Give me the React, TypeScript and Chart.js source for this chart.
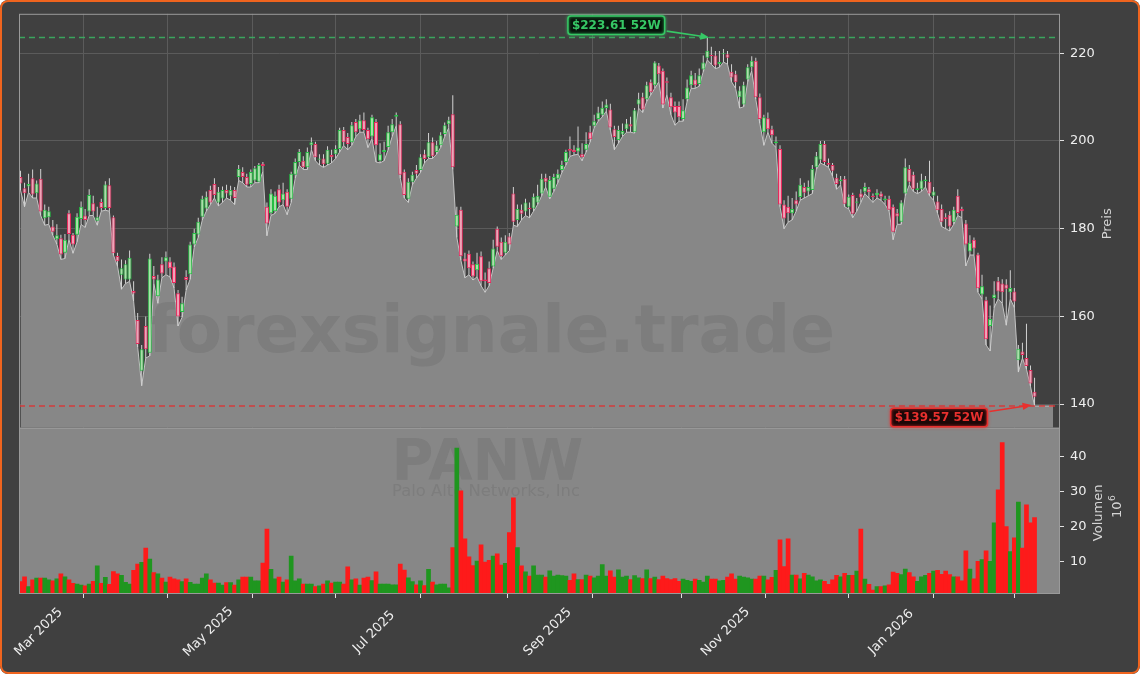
import React, { useEffect, useRef } from "react";
import { Chart, registerables } from "chart.js";

Chart.register(...registerables);

// ---------------- data ----------------
const TICKER = "PANW";
const COMPANY = "Palo Alto Networks, Inc";
const WATERMARK = "forexsignale.trade";
const PRICE_TITLE = "Preis";
const VOLUME_TITLE = "Volumen";
const START_DATE = "2025-02-24";
const HOLIDAYS = [
  "2025-04-18", "2025-05-26", "2025-06-19", "2025-07-04", "2025-09-01",
  "2025-11-27", "2025-12-25", "2026-01-01", "2026-01-19", "2026-02-16",
];
const MONTH_NAMES = ["Jan", "Feb", "Mar", "Apr", "May", "Jun", "Jul", "Aug", "Sep", "Oct", "Nov", "Dec"];
const PRICE_TICKS = [140, 160, 180, 200, 220];
const VOLUME_TICKS = [10, 20, 30, 40];

const opens = [
  191.8, 189.2, 189.6, 191.5, 188.1, 191.4, 182.4, 182.6, 180.5, 177.6,
  177.8, 174.5, 183.5, 178.6, 178.6, 182.2, 183.0, 183.9, 185.8, 181.8,
  186.1, 184.7, 189.9, 182.6, 173.8, 169.5, 168.4, 168.4, 165.8, 159.2,
  147.6, 157.8, 151.7, 169.2, 164.6, 171.9, 172.5, 172.5, 171.4, 165.3,
  161.0, 169.0, 169.6, 176.4, 178.7, 182.7, 184.6, 188.8, 190.2, 186.0,
  186.9, 188.8, 187.5, 188.8, 191.8, 192.9, 191.8, 190.2, 191.0, 190.7,
  194.8, 185.0, 183.5, 184.0, 189.0, 186.5, 188.4, 186.8, 192.3, 195.2,
  195.5, 194.0, 199.0, 199.3, 195.7, 196.0, 194.8, 196.8, 197.0, 198.2,
  202.5, 200.9, 199.7, 204.3, 202.7, 204.7, 202.5, 201.0, 204.3, 195.5,
  197.5, 198.6, 202.0, 205.5, 203.8, 193.0, 186.8, 190.7, 193.4, 193.4,
  197.0, 196.3, 199.7, 197.5, 199.0, 201.6, 203.8, 206.1, 180.5, 184.3,
  173.2, 174.3, 171.9, 170.5, 173.7, 168.4, 171.0, 171.4, 180.0, 177.0,
  174.5, 178.2, 188.0, 182.0, 184.3, 183.9, 184.8, 184.6, 186.0, 188.0,
  191.6, 187.3, 189.1, 191.4, 193.4, 195.2, 198.2, 198.0, 197.6, 197.0,
  198.0, 202.0, 203.5, 205.0, 206.0, 207.5, 207.2, 202.7, 200.2, 201.5,
  202.7, 203.8, 202.0, 208.3, 210.0, 209.5, 213.4, 212.7, 217.2, 216.0,
  213.6, 210.0, 208.0, 208.0, 205.0, 209.5, 212.7, 214.0, 213.0, 216.3,
  219.0, 219.6, 219.5, 217.5, 219.8, 219.8, 215.8, 215.2, 210.0, 208.3,
  214.0, 216.8, 218.3, 210.0, 202.0, 205.2, 202.7, 199.5, 198.2, 185.5,
  185.0, 183.5, 186.5, 187.2, 189.5, 188.5, 188.8, 194.0, 195.7, 199.3,
  195.0, 194.5, 191.6, 190.8, 191.4, 185.0, 187.7, 185.9, 188.0, 188.4,
  189.0, 187.5, 187.6, 188.0, 186.5, 186.8, 185.0, 183.5, 181.6, 188.0,
  193.6, 192.3, 188.8, 189.0, 190.8, 190.7, 187.5, 186.2, 184.5, 182.6,
  183.2, 181.6, 187.5, 184.5, 181.2, 174.8, 177.5, 174.1, 165.0, 163.7,
  157.8, 164.2, 168.0, 167.5, 167.3, 165.5, 165.7, 150.0, 152.0, 150.5,
  147.8, 142.8,
];
const highs = [
  193.2, 190.5, 192.5, 193.5, 191.0, 193.6, 185.5, 185.0, 182.0, 181.0,
  178.6, 178.8, 184.2, 179.0, 183.5, 186.2, 184.5, 189.0, 187.5, 185.0,
  186.8, 190.8, 191.5, 183.0, 174.5, 173.0, 172.8, 175.0, 168.0, 160.8,
  153.5, 160.0, 174.3, 171.5, 169.5, 173.5, 174.8, 173.5, 172.3, 166.0,
  164.5, 170.5, 177.0, 180.0, 182.5, 187.5, 188.5, 189.8, 191.5, 189.5,
  189.6, 190.0, 189.8, 189.5, 194.5, 194.0, 192.5, 193.5, 194.3, 195.0,
  195.2, 186.0, 189.0, 188.5, 190.0, 190.5, 189.0, 193.0, 196.0, 198.2,
  196.5, 198.5, 200.8, 199.8, 197.0, 197.0, 198.8, 198.0, 199.0, 203.0,
  203.2, 201.8, 204.3, 205.0, 206.0, 206.5, 203.0, 206.0, 205.0, 199.5,
  199.8, 203.5, 205.0, 206.5, 204.5, 193.5, 191.5, 193.0, 194.5, 197.0,
  198.0, 201.8, 200.8, 200.0, 202.0, 204.2, 205.5, 210.4, 185.0, 185.0,
  174.5, 175.0, 172.5, 174.5, 174.8, 170.0, 172.5, 177.5, 180.5, 178.0,
  178.5, 179.0, 189.5, 185.5, 185.5, 186.8, 186.0, 188.0, 190.0, 192.5,
  192.5, 192.0, 192.5, 193.5, 195.5, 198.0, 201.0, 199.0, 203.3, 199.5,
  202.0, 203.5, 206.0, 207.8, 209.0, 209.5, 208.5, 203.5, 203.5, 204.0,
  205.0, 205.5, 207.5, 211.0, 211.0, 213.5, 214.0, 218.2, 217.8, 216.5,
  214.5, 211.0, 209.0, 209.0, 209.5, 214.0, 216.0, 215.5, 216.5, 219.5,
  223.61, 221.5, 220.5, 220.5, 221.0, 220.5, 217.5, 216.0, 212.5, 213.5,
  217.5, 219.3, 219.0, 210.8, 206.0, 206.5, 203.5, 201.0, 199.0, 186.5,
  187.5, 187.0, 188.5, 191.5, 190.5, 191.0, 194.5, 197.5, 200.0, 200.0,
  196.0, 195.0, 192.5, 192.0, 192.0, 187.8, 188.2, 187.0, 189.0, 190.5,
  189.5, 188.0, 189.0, 188.5, 187.5, 187.5, 185.5, 184.5, 186.5, 196.0,
  194.5, 193.0, 190.5, 192.5, 192.0, 195.5, 189.5, 187.5, 185.5, 183.5,
  184.0, 185.0, 189.0, 185.0, 182.0, 178.5, 178.0, 174.5, 169.5, 164.5,
  162.5, 168.0, 169.0, 168.5, 168.5, 170.5, 166.5, 153.5, 154.0, 158.3,
  148.8, 146.0,
];
const lows = [
  188.8, 185.0, 188.3, 187.0, 187.0, 183.0, 180.8, 181.0, 178.5, 176.5,
  173.0, 173.2, 177.5, 174.4, 177.0, 181.0, 180.3, 183.0, 183.0, 180.8,
  184.0, 184.2, 184.0, 174.0, 171.5, 166.2, 167.5, 168.0, 163.5, 153.0,
  144.2, 150.5, 151.0, 167.5, 163.0, 168.8, 169.5, 169.0, 166.5, 157.8,
  159.8, 166.0, 168.5, 175.8, 178.0, 182.0, 184.0, 185.5, 187.0, 185.2,
  186.0, 187.0, 186.5, 185.5, 191.0, 190.5, 189.5, 189.5, 190.5, 190.5,
  193.0, 178.4, 183.0, 183.5, 185.0, 185.5, 183.2, 186.0, 191.5, 194.5,
  193.5, 193.5, 198.0, 195.5, 194.5, 194.0, 194.5, 195.0, 196.0, 197.5,
  199.0, 198.0, 199.0, 201.0, 202.0, 202.0, 198.5, 200.5, 195.2, 195.0,
  195.5, 198.0, 201.0, 203.5, 191.5, 187.0, 186.0, 190.0, 191.5, 192.8,
  195.0, 196.0, 196.0, 197.0, 198.5, 201.0, 203.0, 193.5, 178.0, 172.8,
  168.8, 169.5, 168.3, 169.0, 167.0, 165.5, 167.0, 171.0, 175.0, 173.0,
  174.0, 175.0, 180.8, 180.5, 182.0, 183.0, 182.5, 184.0, 185.5, 187.5,
  189.5, 186.8, 188.5, 190.5, 192.8, 194.5, 196.5, 196.8, 197.0, 195.5,
  197.5, 199.8, 203.0, 204.5, 205.5, 206.8, 202.5, 198.0, 199.5, 201.0,
  202.0, 202.0, 201.8, 207.5, 206.5, 209.0, 210.5, 212.0, 213.5, 207.5,
  210.5, 206.0, 203.6, 204.5, 204.5, 209.0, 212.0, 212.0, 212.5, 215.8,
  218.5, 217.5, 216.5, 216.8, 218.0, 217.5, 213.5, 212.0, 207.5, 207.8,
  213.5, 216.0, 209.5, 204.0, 199.0, 202.0, 199.5, 198.5, 185.0, 180.0,
  181.5, 182.0, 184.0, 186.5, 187.0, 187.5, 188.0, 193.5, 195.0, 194.5,
  194.0, 192.0, 189.0, 190.0, 185.0, 184.5, 182.5, 184.0, 186.0, 188.0,
  187.0, 186.0, 187.0, 186.5, 185.5, 184.0, 177.5, 181.0, 181.0, 187.5,
  190.0, 188.5, 188.0, 188.5, 189.5, 187.5, 186.5, 183.5, 180.5, 180.0,
  179.5, 181.0, 183.0, 182.5, 171.5, 174.0, 174.0, 165.5, 164.0, 153.5,
  152.1, 162.0, 164.0, 163.0, 158.0, 164.0, 162.0, 147.3, 150.5, 148.0,
  144.0, 139.57,
];
const closes = [
  190.3, 188.1, 190.2, 187.8, 190.3, 183.9, 184.3, 184.0, 179.3, 178.5,
  174.1, 177.5, 178.8, 176.4, 182.7, 185.0, 182.0, 187.7, 183.9, 182.6,
  184.7, 190.1, 184.7, 174.4, 172.6, 171.0, 171.9, 173.4, 165.2, 153.7,
  152.5, 152.5, 173.2, 168.4, 168.4, 169.8, 173.5, 171.0, 167.6, 160.0,
  163.0, 168.3, 176.4, 179.0, 181.6, 186.8, 187.3, 186.0, 187.7, 188.4,
  188.8, 188.0, 188.8, 187.0, 193.6, 191.8, 190.0, 192.9, 193.8, 194.5,
  194.3, 181.2, 188.0, 187.5, 186.0, 188.0, 185.0, 192.5, 195.2, 197.5,
  194.0, 197.5, 199.7, 196.3, 196.0, 194.7, 198.0, 196.3, 198.2, 202.5,
  199.7, 199.3, 203.6, 202.0, 204.7, 202.5, 200.4, 205.4, 199.0, 197.0,
  198.0, 202.0, 203.8, 205.9, 192.3, 187.7, 190.7, 192.3, 192.5, 196.3,
  195.9, 199.7, 196.5, 199.0, 201.3, 203.6, 204.7, 194.0, 183.2, 173.7,
  172.5, 171.0, 169.1, 172.0, 168.0, 168.0, 167.6, 175.5, 175.9, 173.7,
  177.0, 176.4, 181.6, 184.5, 183.4, 186.0, 184.5, 187.3, 187.5, 191.4,
  190.7, 191.1, 191.8, 192.5, 194.5, 197.5, 197.8, 197.5, 198.5, 196.3,
  199.3, 200.4, 204.5, 206.5, 207.6, 208.3, 203.1, 200.9, 202.5, 202.3,
  204.0, 203.3, 207.0, 209.5, 207.2, 212.7, 211.1, 217.9, 215.2, 208.3,
  213.3, 207.7, 206.5, 205.4, 207.0, 212.2, 215.0, 212.7, 215.0, 217.9,
  220.6, 219.4, 217.2, 218.0, 220.0, 219.0, 214.5, 213.4, 211.5, 212.7,
  216.8, 218.3, 210.0, 205.0, 205.4, 202.7, 201.3, 199.9, 185.5, 182.3,
  183.5, 184.5, 185.5, 190.0, 188.2, 189.5, 193.6, 196.5, 199.3, 195.2,
  194.6, 193.2, 190.2, 191.2, 185.7, 187.3, 183.4, 186.2, 187.1, 189.5,
  188.3, 187.2, 188.2, 187.3, 186.9, 184.3, 179.3, 182.8, 186.0, 194.0,
  190.7, 189.1, 189.2, 191.0, 191.2, 188.0, 188.5, 184.2, 181.6, 182.2,
  180.5, 184.3, 183.6, 184.0, 176.4, 176.8, 175.5, 166.4, 166.9, 154.8,
  159.4, 165.0, 165.7, 165.5, 166.3, 166.5, 163.4, 152.6, 151.2, 148.7,
  144.7, 141.7,
];
// volume in millions of shares
const volumes = [
  4.3, 5.7, 2.9, 4.8, 5.3, 5.3, 5.3, 4.8, 4.5, 5.1,
  6.5, 5.7, 4.8, 3.8, 3.6, 3.3, 3.1, 3.6, 4.4, 8.8,
  3.8, 5.5, 3.5, 7.2, 6.5, 6.1, 4.1, 3.6, 7.5, 9.3,
  9.8, 13.9, 10.7, 6.9, 6.5, 5.3, 4.2, 5.6, 5.1, 4.8,
  4.3, 5.1, 4.1, 3.6, 3.6, 5.3, 6.5, 4.8, 3.9, 3.9,
  3.3, 4.0, 4.0, 3.3, 4.8, 5.6, 5.6, 5.6, 4.5, 4.5,
  9.6, 19.3, 7.8, 5.1, 5.6, 4.2, 4.8, 11.6, 4.5, 5.1,
  3.6, 3.6, 3.6, 2.9, 3.1, 3.6, 4.5, 3.9, 4.2, 4.2,
  3.6, 8.5, 4.8, 5.1, 3.3, 5.3, 5.6, 4.6, 7.1, 3.6,
  3.6, 3.6, 3.4, 3.4, 9.3, 7.6, 5.4, 4.3, 3.4, 4.5,
  3.2, 7.8, 4.2, 3.4, 3.6, 3.6, 2.5, 14.0, 42.4, 30.2,
  16.5, 11.4, 8.9, 10.2, 14.8, 9.9, 10.4, 11.6, 12.2, 9.0,
  9.5, 18.3, 28.2, 14.0, 8.8, 7.1, 5.9, 8.8, 6.2, 6.2,
  5.6, 7.4, 5.9, 6.2, 6.0, 5.9, 4.7, 6.5, 4.9, 4.9,
  6.2, 5.9, 5.4, 5.9, 9.2, 5.9, 7.4, 5.6, 7.7, 5.6,
  5.9, 4.9, 6.0, 5.4, 5.2, 7.7, 5.2, 5.6, 4.9, 5.9,
  5.2, 4.9, 5.2, 4.4, 5.0, 4.7, 4.4, 5.0, 4.7, 4.2,
  5.9, 5.0, 5.0, 4.5, 4.7, 5.6, 6.5, 5.0, 5.9, 5.6,
  5.4, 5.0, 5.0, 5.9, 5.9, 4.8, 5.5, 7.5, 16.2, 8.6,
  16.5, 6.2, 6.2, 5.1, 6.7, 6.2, 5.7, 4.5, 4.8, 4.4,
  3.5, 4.8, 6.1, 5.7, 6.7, 6.1, 6.1, 7.3, 19.3, 5.0,
  3.5, 1.9, 2.9, 2.9, 3.1, 3.4, 7.0, 6.7, 6.3, 7.9,
  6.9, 5.7, 4.4, 5.7, 6.1, 6.7, 7.3, 7.5, 6.4, 7.3,
  6.3, 5.7, 5.7, 4.5, 13.1, 7.9, 5.1, 10.1, 10.6, 13.1,
  10.1, 21.1, 30.5, 44.0, 20.0, 12.9, 16.8, 27.0, 13.9, 26.2,
  21.1, 22.6,
];

// ---------------- style / layout ----------------
const W = 1140;
const H = 674;
const CHART_LEFT = 19;
const CHART_TOP = 11;
const CHART_RIGHT = 1060;
const CHART_BOTTOM = 594;
const X_MIN = -0.37;
const X_MAX = 257.3;
const PRICE_MIN = 134.6;
const PRICE_MAX = 229.0;
const VOL_MIN = 0.77;
const VOL_MAX = 48.2;
const AREA_EXT = 4.6;

const FONT = "'DejaVu Sans', 'Noto Sans', sans-serif";
const BG = "#404040";
const GRID = "#5b5b5b";
const FRAME = "#9a9a9a";
const AREA_FILL = "#878787";
const AREA_LINE = "#c4c4c4";
const TICK_MARK = "#e0e0e0";
const TICK_LABEL = "#eeeeee";
const TITLE_COLOR = "#d4d4d4";
const WICK = "#d2d2d2";
const UP_BORDER = "#24c244";
const UP_FILL = "#a9e2a9";
const DOWN_BORDER = "#e8285c";
const DOWN_FILL = "#f3a2b8";
const VOL_UP = "#1f961f";
const VOL_DOWN = "#fe1a1a";
const HI_COLOR = "#36c865";
const HI_LINE = "rgba(58,176,96,0.9)";
const LO_COLOR = "#e8302e";
const LO_LINE = "rgba(220,52,52,0.9)";
const WM_COLOR = "rgba(50,50,50,0.11)";

function tradingDates(start: string, count: number, holidays: string[]): Date[] {
  const out: Date[] = [];
  const hol = new Set(holidays);
  const d = new Date(start + "T12:00:00Z");
  while (out.length < count) {
    const dow = d.getUTCDay();
    const iso = d.toISOString().slice(0, 10);
    if (dow !== 0 && dow !== 6 && !hol.has(iso)) out.push(new Date(d.getTime()));
    d.setUTCDate(d.getUTCDate() + 1);
  }
  return out;
}

function fitFont(ctx: CanvasRenderingContext2D, text: string, weight: string, width: number): number {
  ctx.font = `${weight} 100px ${FONT}`;
  const w = ctx.measureText(text).width;
  return (100 * width) / w;
}

function drawArrow(ctx: CanvasRenderingContext2D, x0: number, y0: number, x1: number, y1: number, color: string) {
  const ang = Math.atan2(y1 - y0, x1 - x0);
  const hl = 9;
  const hw = 3.6;
  ctx.save();
  ctx.strokeStyle = color;
  ctx.fillStyle = color;
  ctx.lineWidth = 1.6;
  ctx.beginPath();
  ctx.moveTo(x0, y0);
  ctx.lineTo(x1 - Math.cos(ang) * hl * 0.7, y1 - Math.sin(ang) * hl * 0.7);
  ctx.stroke();
  ctx.beginPath();
  ctx.moveTo(x1, y1);
  ctx.lineTo(x1 - hl * Math.cos(ang) + hw * Math.sin(ang), y1 - hl * Math.sin(ang) - hw * Math.cos(ang));
  ctx.lineTo(x1 - hl * Math.cos(ang) - hw * Math.sin(ang), y1 - hl * Math.sin(ang) + hw * Math.cos(ang));
  ctx.closePath();
  ctx.fill();
  ctx.restore();
}

function drawTag(ctx: CanvasRenderingContext2D, cx: number, cy: number, text: string, color: string, fill: string) {
  ctx.save();
  ctx.font = `bold 12px ${FONT}`;
  const tw = ctx.measureText(text).width;
  const w = tw + 8;
  const h = 18.5;
  const x = cx - w / 2;
  const y = cy - h / 2;
  ctx.beginPath();
  (ctx as any).roundRect(x, y, w, h, 3);
  ctx.fillStyle = fill;
  ctx.fill();
  ctx.shadowColor = color;
  ctx.shadowBlur = 3;
  ctx.strokeStyle = color;
  ctx.lineWidth = 1.5;
  ctx.stroke();
  ctx.shadowBlur = 0;
  ctx.fillStyle = color;
  ctx.textAlign = "center";
  ctx.textBaseline = "middle";
  ctx.fillText(text, cx, cy + 0.5);
  ctx.restore();
  return { x, y, w, h };
}

export default function App() {
  const ref = useRef<HTMLCanvasElement | null>(null);

  useEffect(() => {
    document.body.style.margin = "0";
    const canvas = ref.current;
    if (!canvas) return;

    const n = closes.length;
    const dates = tradingDates(START_DATE, n, HOLIDAYS);
    const monthTicks: { index: number; label: string; show: boolean }[] = [];
    for (let i = 1; i < n; i++) {
      if (dates[i].getUTCMonth() !== dates[i - 1].getUTCMonth()) {
        const k = monthTicks.length;
        monthTicks.push({
          index: i,
          label: `${MONTH_NAMES[dates[i].getUTCMonth()]} ${dates[i].getUTCFullYear()}`,
          show: k % 2 === 0,
        });
      }
    }

    const up = closes.map((c, i) => c >= opens[i]);
    const areaData = lows.map((l, i) => ({ x: i, y: l }));
    areaData.push({ x: n - 1 + AREA_EXT, y: lows[n - 1] });
    const wickData = lows.map((l, i) => ({ x: i, y: [l, highs[i]] }));
    const bodyData = opens.map((o, i) => ({ x: i, y: [Math.min(o, closes[i]), Math.max(o, closes[i])] }));
    const volData = volumes.map((v, i) => ({ x: i, y: v }));

    let hiIdx = 0;
    let loIdx = 0;
    highs.forEach((h, i) => { if (h > highs[hiIdx]) hiIdx = i; });
    lows.forEach((l, i) => { if (l < lows[loIdx]) loIdx = i; });

    const plugin = {
      id: "panels",
      beforeDatasetsDraw(chart: any) {
        const { ctx } = chart;
        const xs = chart.scales.x;
        const yv = chart.scales.yv;
        ctx.save();
        ctx.fillStyle = AREA_FILL;
        ctx.fillRect(xs.left, yv.top, xs.right - xs.left, yv.bottom - yv.top);
        ctx.restore();
      },
      afterDatasetDraw(chart: any, args: any) {
        if (args.index !== 0) return;
        const { ctx } = chart;
        ctx.save();
        ctx.fillStyle = WM_COLOR;
        ctx.textAlign = "center";
        ctx.textBaseline = "alphabetic";
        let s = fitFont(ctx, WATERMARK, "bold", 687);
        ctx.font = `bold ${s}px ${FONT}`;
        ctx.fillText(WATERMARK, 491.5, 352);
        s = fitFont(ctx, TICKER, "bold", 192);
        ctx.font = `bold ${s}px ${FONT}`;
        ctx.fillText(TICKER, 487.5, 480);
        s = fitFont(ctx, COMPANY, "normal", 188);
        ctx.font = `normal ${s}px ${FONT}`;
        ctx.fillText(COMPANY, 486, 496);
        ctx.restore();
      },
      afterDatasetsDraw(chart: any) {
        const { ctx } = chart;
        const xs = chart.scales.x;
        const y = chart.scales.y;
        const yv = chart.scales.yv;

        // dashed 52W lines
        const hiY = y.getPixelForValue(highs[hiIdx]);
        const loY = y.getPixelForValue(lows[loIdx]);
        ctx.save();
        ctx.lineWidth = 1.5;
        ctx.setLineDash([6, 4]);
        ctx.strokeStyle = HI_LINE;
        ctx.beginPath();
        ctx.moveTo(xs.left, hiY);
        ctx.lineTo(xs.right, hiY);
        ctx.stroke();
        ctx.strokeStyle = LO_LINE;
        ctx.beginPath();
        ctx.moveTo(xs.left, loY);
        ctx.lineTo(xs.right, loY);
        ctx.stroke();
        ctx.restore();

        // frames
        ctx.save();
        ctx.strokeStyle = FRAME;
        ctx.lineWidth = 1;
        ctx.strokeRect(xs.left + 0.5, y.top + 0.5, xs.right - xs.left - 1, y.bottom - y.top);
        ctx.strokeRect(xs.left + 0.5, yv.top + 0.5, xs.right - xs.left - 1, yv.bottom - yv.top - 1);
        ctx.restore();

        // annotations
        const hx = xs.getPixelForValue(hiIdx);
        const hiTag = drawTag(ctx, hx - 91, hiY - 12.3, `$${highs[hiIdx].toFixed(2)} 52W`, HI_COLOR, "#07140b");
        drawArrow(ctx, hiTag.x + hiTag.w + 2, hiTag.y + hiTag.h / 2 + 6, hx + 2, hiY, HI_COLOR);
        const lx = xs.getPixelForValue(loIdx);
        const loTag = drawTag(ctx, lx - 95.5, loY + 11.5, `$${lows[loIdx].toFixed(2)} 52W`, LO_COLOR, "#1c0707");
        drawArrow(ctx, loTag.x + loTag.w + 2, loTag.y + loTag.h / 2 - 6, lx - 3, loY - 1, LO_COLOR);
      },
      afterDraw(chart: any) {
        const { ctx } = chart;
        const xs = chart.scales.x;
        const y = chart.scales.y;
        const yv = chart.scales.yv;
        ctx.save();
        // x labels, rotated 45 deg and centred below tick
        ctx.fillStyle = TICK_LABEL;
        ctx.font = `13px ${FONT}`;
        ctx.textAlign = "center";
        ctx.textBaseline = "middle";
        monthTicks.forEach((t) => {
          if (!t.show) return;
          const px = xs.getPixelForValue(t.index);
          ctx.save();
          ctx.translate(px - 2, xs.top + 38);
          ctx.rotate(-Math.PI / 4);
          ctx.fillText(t.label, 0, 0);
          ctx.restore();
        });
        // axis titles
        ctx.fillStyle = TITLE_COLOR;
        ctx.font = `13px ${FONT}`;
        ctx.save();
        ctx.translate(1108, (y.top + y.bottom) / 2 + 3);
        ctx.rotate(-Math.PI / 2);
        ctx.fillText(PRICE_TITLE, 0, 0);
        ctx.restore();
        ctx.save();
        ctx.translate(1099, (yv.top + yv.bottom) / 2 + 2);
        ctx.rotate(-Math.PI / 2);
        ctx.fillText(VOLUME_TITLE, 0, 0);
        ctx.restore();
        ctx.save();
        ctx.translate(1117, (yv.top + yv.bottom) / 2 - 4);
        ctx.rotate(-Math.PI / 2);
        ctx.font = `13px ${FONT}`;
        const w10 = ctx.measureText("10").width;
        ctx.font = `9px ${FONT}`;
        const w6 = ctx.measureText("6").width;
        const x0 = -(w10 + w6) / 2;
        ctx.textAlign = "left";
        ctx.font = `13px ${FONT}`;
        ctx.fillText("10", x0, 1);
        ctx.font = `9px ${FONT}`;
        ctx.fillText("6", x0 + w10 + 0.5, -4);
        ctx.restore();
        ctx.restore();
      },
    };

    const tickFont = { family: FONT, size: 13 };

    const chart = new Chart(canvas, {
      type: "line",
      data: {
        datasets: [
          {
            type: "line",
            label: "area",
            data: areaData,
            yAxisID: "y",
            fill: "start",
            backgroundColor: AREA_FILL,
            borderColor: AREA_LINE,
            borderWidth: 1,
            pointRadius: 0,
            tension: 0,
            order: 4,
          } as any,
          {
            type: "bar",
            label: "volume",
            data: volData,
            yAxisID: "yv",
            backgroundColor: up.map((u) => (u ? VOL_UP : VOL_DOWN)),
            borderWidth: 0,
            barPercentage: 1,
            categoryPercentage: 1,
            grouped: false,
            order: 3,
          } as any,
          {
            type: "bar",
            label: "wicks",
            data: wickData,
            yAxisID: "y",
            backgroundColor: WICK,
            borderWidth: 0,
            barThickness: 1,
            grouped: false,
            inflateAmount: 0,
            order: 2,
          } as any,
          {
            type: "bar",
            label: "bodies",
            data: bodyData,
            yAxisID: "y",
            backgroundColor: up.map((u) => (u ? UP_FILL : DOWN_FILL)),
            borderColor: up.map((u) => (u ? UP_BORDER : DOWN_BORDER)),
            borderWidth: 1,
            borderSkipped: false,
            barThickness: 4,
            grouped: false,
            inflateAmount: 0,
            order: 1,
          } as any,
        ],
      },
      options: {
        responsive: false,
        animation: false,
        devicePixelRatio: 1,
        layout: { autoPadding: false, padding: { left: CHART_LEFT, top: CHART_TOP, right: 0, bottom: 0 } },
        plugins: { legend: { display: false }, tooltip: { enabled: false } },
        scales: {
          x: {
            type: "linear",
            min: X_MIN,
            max: X_MAX,
            offset: false,
            grid: { color: GRID, lineWidth: 1, drawTicks: true, tickLength: 4, tickColor: TICK_MARK },
            border: { display: false },
            ticks: { display: false },
            afterBuildTicks: (s: any) => { s.ticks = monthTicks.map((t) => ({ value: t.index })); },
            afterFit: (s: any) => { s.height = H - CHART_BOTTOM; },
          },
          y: {
            type: "linear",
            position: "right",
            stack: "panels",
            stackWeight: 416,
            min: PRICE_MIN,
            max: PRICE_MAX,
            grid: { color: GRID, lineWidth: 1, drawTicks: true, tickLength: 4, tickColor: TICK_MARK },
            border: { display: false },
            ticks: { color: TICK_LABEL, font: tickFont, padding: 6 },
            afterBuildTicks: (s: any) => { s.ticks = PRICE_TICKS.map((v) => ({ value: v })); },
            afterFit: (s: any) => { s.width = W - CHART_RIGHT; },
          },
          yv: {
            type: "linear",
            position: "right",
            stack: "panels",
            stackWeight: 167,
            min: VOL_MIN,
            max: VOL_MAX,
            grid: { color: "rgba(0,0,0,0)", drawTicks: true, tickLength: 4, tickColor: TICK_MARK },
            border: { display: false },
            ticks: { color: TICK_LABEL, font: tickFont, padding: 6 },
            afterBuildTicks: (s: any) => { s.ticks = VOLUME_TICKS.map((v) => ({ value: v })); },
            afterFit: (s: any) => { s.width = W - CHART_RIGHT; },
          },
        },
      } as any,
      plugins: [plugin],
    });

    return () => chart.destroy();
  }, []);

  return (
    <div
      style={{
        position: "relative",
        width: W,
        height: H,
        background: BG,
        borderRadius: 8,
        overflow: "hidden",
      }}
    >
      <canvas ref={ref} width={W} height={H} style={{ position: "absolute", left: 0, top: 0, width: W, height: H }} />
      <div
        style={{
          position: "absolute",
          inset: 0,
          border: "2.5px solid #f0641e",
          borderRadius: 8,
          boxSizing: "border-box",
          pointerEvents: "none",
        }}
      />
    </div>
  );
}
